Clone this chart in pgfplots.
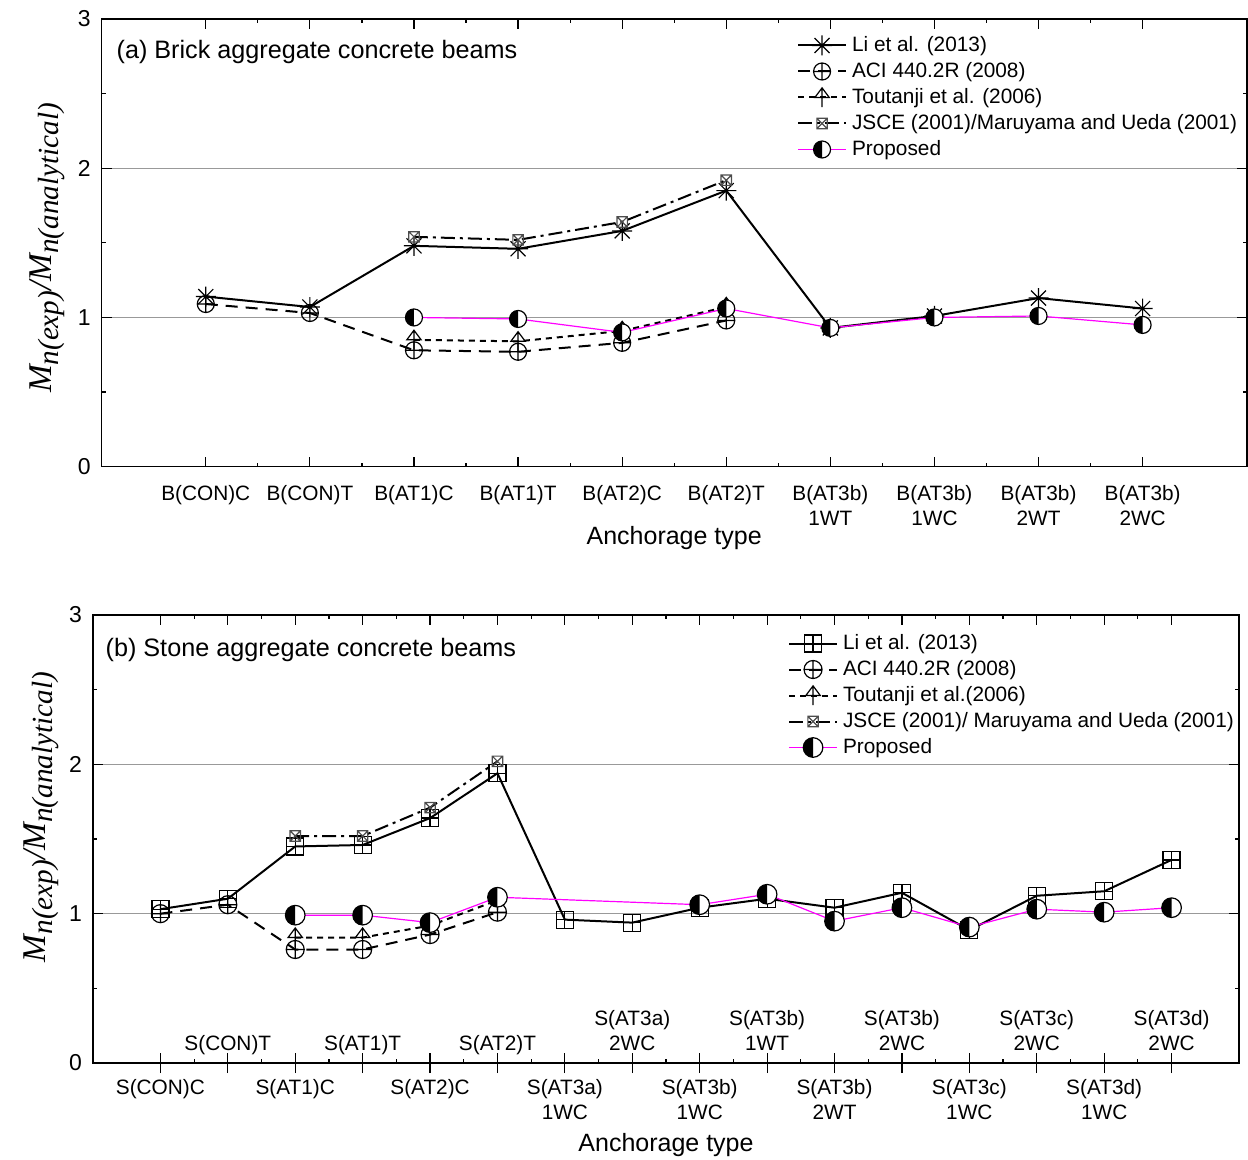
\documentclass[border=0pt]{standalone}
\usepackage{fontspec}
\setmainfont{Liberation Sans}
\newfontfamily\timesfont{Liberation Serif}
\usepackage{pgfplots}
\pgfplotsset{compat=1.18}

% ---------- plot marks ----------
% asterisk made of a plus and a cross
\pgfdeclareplotmark{starplus}{%
  \pgfpathmoveto{\pgfpoint{0pt}{\pgfplotmarksize}}%
  \pgfpathlineto{\pgfpoint{0pt}{-\pgfplotmarksize}}%
  \pgfpathmoveto{\pgfpoint{\pgfplotmarksize}{0pt}}%
  \pgfpathlineto{\pgfpoint{-\pgfplotmarksize}{0pt}}%
  \pgfpathmoveto{\pgfpoint{0.75\pgfplotmarksize}{0.75\pgfplotmarksize}}%
  \pgfpathlineto{\pgfpoint{-0.75\pgfplotmarksize}{-0.75\pgfplotmarksize}}%
  \pgfpathmoveto{\pgfpoint{-0.75\pgfplotmarksize}{0.75\pgfplotmarksize}}%
  \pgfpathlineto{\pgfpoint{0.75\pgfplotmarksize}{-0.75\pgfplotmarksize}}%
  \pgfusepathqstroke}
% squared plus
\pgfdeclareplotmark{boxplus}{%
  \pgfpathrectanglecorners{\pgfpoint{-\pgfplotmarksize}{-\pgfplotmarksize}}{\pgfpoint{\pgfplotmarksize}{\pgfplotmarksize}}%
  \pgfpathmoveto{\pgfpoint{0pt}{\pgfplotmarksize}}%
  \pgfpathlineto{\pgfpoint{0pt}{-\pgfplotmarksize}}%
  \pgfpathmoveto{\pgfpoint{\pgfplotmarksize}{0pt}}%
  \pgfpathlineto{\pgfpoint{-\pgfplotmarksize}{0pt}}%
  \pgfusepathqstroke}
% squared times
\pgfdeclareplotmark{boxtimes}{%
  \pgfpathrectanglecorners{\pgfpoint{-\pgfplotmarksize}{-\pgfplotmarksize}}{\pgfpoint{\pgfplotmarksize}{\pgfplotmarksize}}%
  \pgfpathmoveto{\pgfpoint{-\pgfplotmarksize}{-\pgfplotmarksize}}%
  \pgfpathlineto{\pgfpoint{\pgfplotmarksize}{\pgfplotmarksize}}%
  \pgfpathmoveto{\pgfpoint{-\pgfplotmarksize}{\pgfplotmarksize}}%
  \pgfpathlineto{\pgfpoint{\pgfplotmarksize}{-\pgfplotmarksize}}%
  \pgfusepathqstroke}
% triangle sitting on the point, with a vertical bar
\pgfdeclareplotmark{tribar}{%
  \pgfpathmoveto{\pgfpoint{0pt}{\pgfplotmarksize}}%
  \pgfpathlineto{\pgfpoint{-0.75\pgfplotmarksize}{0pt}}%
  \pgfpathlineto{\pgfpoint{0.75\pgfplotmarksize}{0pt}}%
  \pgfpathclose
  \pgfpathmoveto{\pgfpoint{0pt}{\pgfplotmarksize}}%
  \pgfpathlineto{\pgfpoint{0pt}{-\pgfplotmarksize}}%
  \pgfusepathqstroke}
% circle, left half black
\pgfdeclareplotmark{halfcirc}{%
  \begin{pgfscope}%
  \pgfsetfillcolor{white}%
  \pgfpathcircle{\pgfpointorigin}{\pgfplotmarksize}%
  \pgfusepath{fill}%
  \pgfsetfillcolor{black}%
  \pgfpathmoveto{\pgfpoint{0pt}{\pgfplotmarksize}}%
  \pgfpatharc{90}{270}{\pgfplotmarksize}%
  \pgfpathclose
  \pgfusepath{fill}%
  \pgfpathcircle{\pgfpointorigin}{\pgfplotmarksize}%
  \pgfusepath{stroke}%
  \end{pgfscope}}

\definecolor{propmag}{RGB}{255,0,255}

% tick label helpers: below / above the axis line
\newcommand{\dn}[1]{\begin{tabular}[t]{@{}c@{}}#1\end{tabular}}
\newcommand{\up}[1]{\raisebox{13.5pt}[0pt][0pt]{\begin{tabular}[b]{@{}c@{}}#1\end{tabular}}}

\newcommand{\ylab}{{\timesfont\itshape\fontsize{16.6}{16.6}\selectfont
  M\raisebox{-3.6pt}{\fontsize{14.6}{14.6}\selectfont n(exp)}/M\raisebox{-3.6pt}{\fontsize{14.6}{14.6}\selectfont n(analytical)}}}

\pgfplotsset{
  panel/.style={
    scale only axis,
    xmin=-1, ymin=0, ymax=3,
    axis line style={line width=0.8pt},
    ytick={0,1,2,3}, minor y tick num=1, minor x tick num=1,
    major tick length=5pt, minor tick length=2pt,
    tick style={line width=0.6pt, black},
    ymajorgrids, major grid style={black!40, line width=0.7pt},
    /pgf/number format/assume math mode=true,
    yticklabel style={font=\fontsize{11.5}{13}\selectfont, xshift=-2pt},
    xticklabel style={font=\fontsize{10.4}{12.5}\selectfont},
    xlabel style={font=\fontsize{12.5}{14}\selectfont},
    legend cell align=left,
    legend style={draw=none, fill=none, inner sep=0pt, outer sep=0pt,
      row sep=0pt, column sep=1pt, anchor=north west,
      font=\fontsize{10.4}{12}\selectfont,
      nodes={inner sep=1.5pt, text height=8pt, text depth=2pt}},
    legend image code/.code={%
      \draw[mark repeat=2, mark phase=2, ##1]
        plot coordinates {(0pt,0pt) (12pt,0pt) (24pt,0pt)};},
  },
  lisol/.style={black, line width=1pt, mark options={solid, line width=0.6pt}},
  acidash/.style={black, line width=1pt, dash pattern=on 6pt off 4pt,
    mark=oplus, mark options={solid, line width=0.6pt}},
  toudash/.style={black, line width=1pt, dash pattern=on 3pt off 2.5pt,
    mark=tribar, mark size=4.8pt, mark options={solid, line width=0.6pt}},
  jscedash/.style={black, line width=1pt, dash pattern=on 7pt off 2.5pt on 1.5pt off 2.5pt,
    mark=boxtimes, mark size=2.6pt, mark options={solid, black!70, line width=0.6pt}},
  propline/.style={propmag, line width=0.6pt,
    mark=halfcirc, mark options={solid, draw=black, line width=0.6pt}},
}

\begin{document}
\begin{tikzpicture}

% ---------------- (a) brick aggregate ----------------
\begin{axis}[panel,
  at={(50.85pt,-9.5pt)}, anchor=north west,
  width=572.5pt, height=223.85pt,
  xmax=10,
  xtick={0,...,9},
  xticklabels={{\dn{B(CON)C}},{\dn{B(CON)T}},{\dn{B(AT1)C}},{\dn{B(AT1)T}},{\dn{B(AT2)C}},{\dn{B(AT2)T}},
    {\dn{B(AT3b)\\1WT}},{\dn{B(AT3b)\\1WC}},{\dn{B(AT3b)\\2WT}},{\dn{B(AT3b)\\2WC}}},
  xticklabel style={yshift=-4.7pt},
  xlabel={Anchorage type},
  xlabel style={at={(axis description cs:0.5,0)}, anchor=center, yshift=-35.65pt},
  ylabel={\ylab},
  ylabel style={at={(axis description cs:0,0.4885)}, anchor=center, yshift=27.35pt},
  legend style={at={(rel axis cs:0.6073,1)}, yshift=-6.75pt},
]
\addplot[lisol, mark=starplus, mark size=5pt] coordinates {
  (0,1.14) (1,1.07) (2,1.48) (3,1.46) (4,1.58) (5,1.85)
  (6,0.93) (7,1.01) (8,1.13) (9,1.06)};
\addlegendentry{Li et al. (2013)}
\addplot[acidash, mark size=4.25pt] coordinates {
  (0,1.09) (1,1.03) (2,0.78) (3,0.77) (4,0.83) (5,0.98)};
\addlegendentry{ACI 440.2R (2008)}
\addplot[toudash] coordinates {
  (2,0.85) (3,0.84) (4,0.91) (5,1.07)};
\addlegendentry{Toutanji et al. (2006)}
\addplot[jscedash] coordinates {
  (2,1.54) (3,1.52) (4,1.64) (5,1.92)};
\addlegendentry{JSCE (2001)/Maruyama and Ueda (2001)}
\addplot[propline, mark size=4.25pt] coordinates {
  (2,1.00) (3,0.99) (4,0.90) (5,1.06) (6,0.93) (7,1.00) (8,1.01) (9,0.95)};
\addlegendentry{Proposed}
\node[anchor=west, font=\fontsize{12.6}{14}\selectfont, xshift=3.95pt, yshift=-16.5pt]
  at (rel axis cs:0,1) {(a) Brick aggregate concrete beams};
\end{axis}

% ---------------- (b) stone aggregate ----------------
\begin{axis}[panel,
  at={(46.5pt,-307.5pt)}, anchor=north west,
  width=573pt, height=224pt,
  xmax=16,
  xtick={0,...,15},
  xticklabels={{\dn{S(CON)C}},{\up{S(CON)T}},{\dn{S(AT1)C}},{\up{S(AT1)T}},
    {\dn{S(AT2)C}},{\up{S(AT2)T}},{\dn{S(AT3a)\\1WC}},{\up{S(AT3a)\\2WC}},
    {\dn{S(AT3b)\\1WC}},{\up{S(AT3b)\\1WT}},{\dn{S(AT3b)\\2WT}},{\up{S(AT3b)\\2WC}},
    {\dn{S(AT3c)\\1WC}},{\up{S(AT3c)\\2WC}},{\dn{S(AT3d)\\1WC}},{\up{S(AT3d)\\2WC}}},
  xticklabel style={yshift=-3.55pt},
  extra x ticks={0,...,15},
  extra x tick labels={},
  extra x tick style={tick align=outside, xtick pos=bottom},
  xlabel={Anchorage type},
  xlabel style={at={(axis description cs:0.5,0)}, anchor=center, yshift=-41pt},
  ylabel={\ylab},
  ylabel style={at={(axis description cs:0,0.549)}, anchor=center, yshift=26pt},
  legend style={at={(rel axis cs:0.6065,1)}, yshift=-7.75pt},
]
\addplot[lisol, mark=boxplus, mark size=4.25pt] coordinates {
  (0,1.03) (1,1.10) (2,1.45) (3,1.46) (4,1.64) (5,1.94) (6,0.96) (7,0.94)
  (8,1.04) (9,1.10) (10,1.04) (11,1.14) (12,0.89) (13,1.12) (14,1.15) (15,1.36)};
\addlegendentry{Li et al. (2013)}
\addplot[acidash, mark size=4.5pt] coordinates {
  (0,1.00) (1,1.06) (2,0.76) (3,0.76) (4,0.86) (5,1.01)};
\addlegendentry{ACI 440.2R (2008)}
\addplot[toudash] coordinates {
  (2,0.84) (3,0.84) (4,0.92) (5,1.09)};
\addlegendentry{Toutanji et al.(2006)}
\addplot[jscedash] coordinates {
  (2,1.52) (3,1.52) (4,1.71) (5,2.02)};
\addlegendentry{JSCE (2001)/ Maruyama and Ueda (2001)}
\addplot[propline, mark size=4.9pt] coordinates {
  (2,0.99) (3,0.99) (4,0.94) (5,1.11) (8,1.06) (9,1.13) (10,0.95)
  (11,1.04) (12,0.91) (13,1.03) (14,1.01) (15,1.04)};
\addlegendentry{Proposed}
\node[anchor=west, font=\fontsize{12.6}{14}\selectfont, xshift=2.8pt, yshift=-17.5pt]
  at (rel axis cs:0,1) {(b) Stone aggregate concrete beams};
\end{axis}

\pgfresetboundingbox
\useasboundingbox (0,0) rectangle (624pt,-580pt);
\end{tikzpicture}
\end{document}
